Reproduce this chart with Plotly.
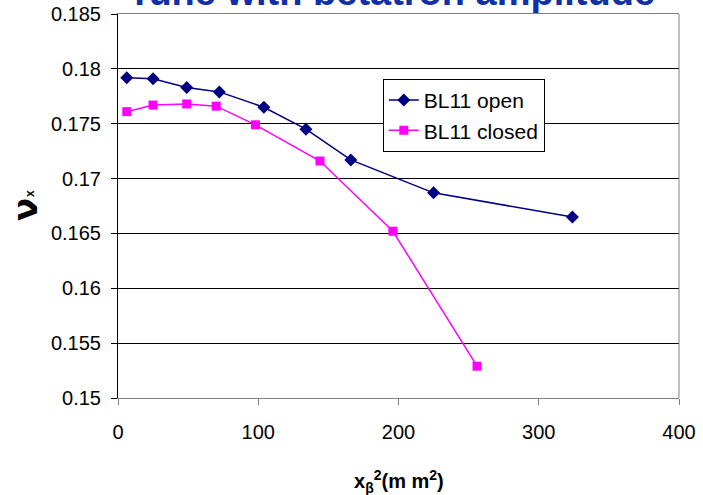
import plotly.graph_objects as go

# Data
open_x = [6.25, 25, 49, 72.25, 104, 134, 166, 225, 324]
open_y = [0.1792, 0.1791, 0.1783, 0.1779, 0.1765, 0.1745, 0.1717, 0.1687, 0.1665]
closed_x = [6.25, 25, 49, 70, 98, 144, 196, 256]
closed_y = [0.1761, 0.1767, 0.1768, 0.1766, 0.1749, 0.1716, 0.1652, 0.1529]
x_ticks = [0, 100, 200, 300, 400]
y_ticks = [0.15, 0.155, 0.16, 0.165, 0.17, 0.175, 0.18, 0.185]
y_tick_text = ["0.15", "0.155", "0.16", "0.165", "0.17", "0.175", "0.18", "0.185"]

FONT = "Liberation Sans, Arial, sans-serif"

fig = go.Figure()
fig.add_trace(go.Scatter(
    x=open_x, y=open_y, mode="lines+markers", name="BL11 open",
    line=dict(color="#000080", width=1.5),
    marker=dict(symbol="diamond", size=10, color="#000080"),
))
fig.add_trace(go.Scatter(
    x=closed_x, y=closed_y, mode="lines+markers", name="BL11 closed",
    line=dict(color="#FF00FF", width=1.5),
    marker=dict(symbol="square", size=9, color="#FF00FF"),
))

fig.update_layout(
    width=703, height=495,
    margin=dict(l=118, r=24, t=14, b=97, autoexpand=False),
    paper_bgcolor="white", plot_bgcolor="white",
    font=dict(family=FONT, size=20, color="black"),
    showlegend=True,
    legend=dict(
        x=0.472, y=0.831, xanchor="left", yanchor="top",
        bgcolor="white", bordercolor="black", borderwidth=1,
        font=dict(family=FONT, size=21, color="black"),
        tracegroupgap=0, itemwidth=30,
    ),
    xaxis=dict(
        range=[0, 400], tickvals=x_ticks, ticks="outside", ticklen=6,
        tickcolor="#808080", showgrid=False, zeroline=False, automargin=False,
        showline=True, linecolor="#808080", linewidth=1, mirror=True,
        tickfont=dict(family=FONT, size=20), ticklabelstandoff=10,
        ticklabeloverflow="allow",
    ),
    yaxis=dict(
        range=[0.15, 0.185], tickvals=y_ticks, ticktext=y_tick_text,
        ticks="outside", ticklen=6, tickcolor="black", automargin=False,
        showgrid=True, gridcolor="black", gridwidth=1, zeroline=False,
        showline=True, linecolor="black", linewidth=1,
        tickfont=dict(family=FONT, size=20), ticklabelstandoff=6,
        ticklabeloverflow="allow",
    ),
    shapes=[dict(type="line", xref="paper", yref="paper", x0=1, x1=1, y0=0, y1=1,
                 line=dict(color="#808080", width=1))],
)

# Chart title (mostly above the visible page, as in the reference)
fig.add_annotation(
    text="<b>Tune with betatron amplitude</b>", xref="paper", yref="paper",
    x=0.487, y=1.0, xanchor="center", yanchor="bottom", yshift=-1,
    showarrow=False, font=dict(family=FONT, size=38, color="#1030A8"),
)
# Y axis title: nu with a small x
fig.add_annotation(
    text="<b>ν</b>",
    xref="paper", yref="paper", x=0, y=0.5, xshift=-93, yshift=-4,
    xanchor="center", yanchor="middle",
    textangle=-90, showarrow=False, font=dict(family="DejaVu Sans, sans-serif", size=34, color="black"),
)
fig.add_annotation(
    text="<b>x</b>",
    xref="paper", yref="paper", x=0, y=0.5, xshift=-88, yshift=12,
    xanchor="center", yanchor="middle",
    textangle=-90, showarrow=False, font=dict(family=FONT, size=12, color="black"),
)
# X axis title
fig.add_annotation(
    text="<b>x<sub>β</sub><sup>2</sup>(m m<sup>2</sup>)</b>",
    xref="paper", yref="paper", x=0.5, y=0, yshift=-83, xanchor="center", yanchor="middle",
    showarrow=False, font=dict(family=FONT, size=20, color="black"),
)

# remove the default 8px page margin so the figure sits at the window's top-left corner
fig.write_html("out.html", config={"displayModeBar": False},
               post_script="document.body.style.margin='0';")
